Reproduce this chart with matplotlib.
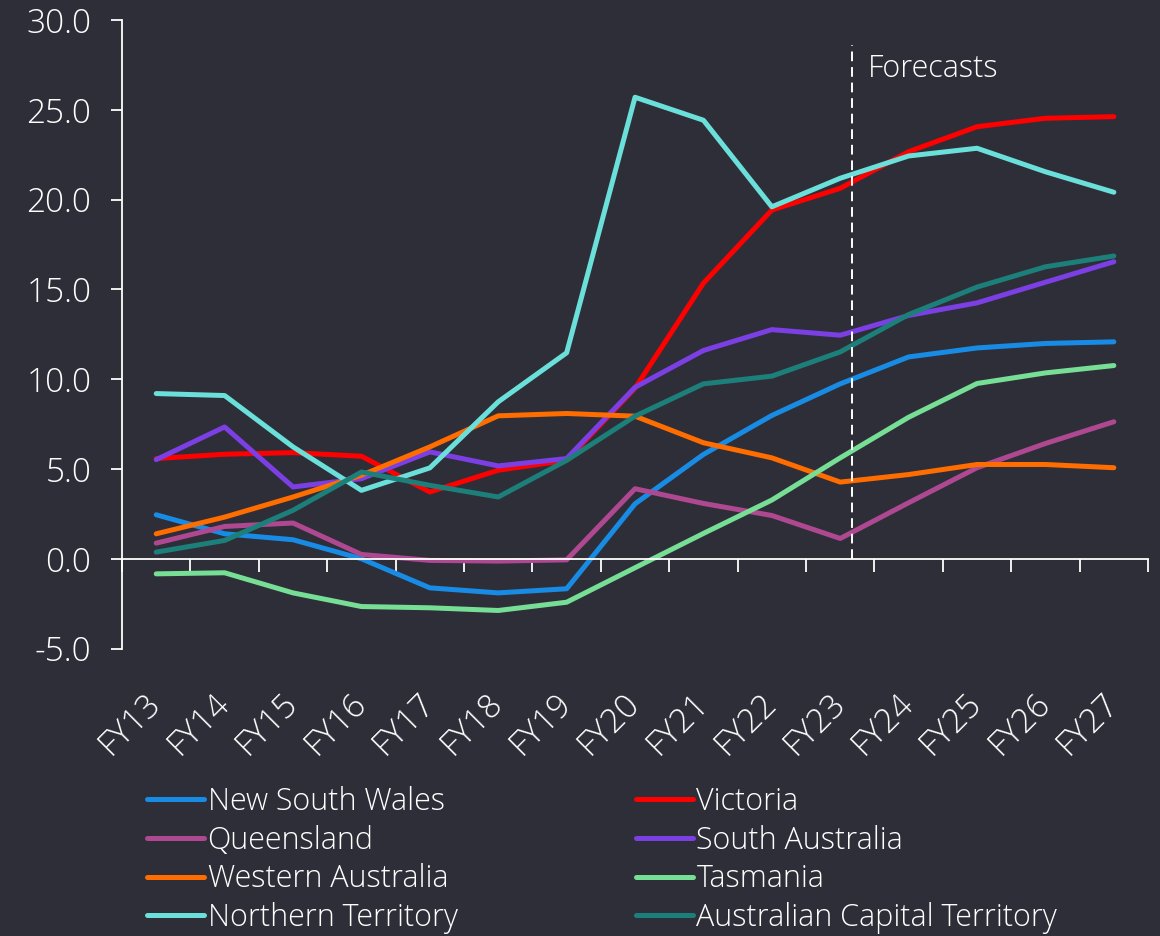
import numpy as np
import matplotlib
matplotlib.use("Agg")
import matplotlib.pyplot as plt

# -----------------------------
# Data
# -----------------------------
years = ["FY13", "FY14", "FY15", "FY16", "FY17", "FY18", "FY19", "FY20",
         "FY21", "FY22", "FY23", "FY24", "FY25", "FY26", "FY27"]

nsw = [2.45, 1.39, 1.06, 0.0, -1.62, -1.90, -1.67, 3.06, 5.81, 7.98, 9.74, 11.24, 11.74, 11.99, 12.08]
vic = [5.58, 5.82, 5.91, 5.71, 3.72, 4.93, 5.48, 9.5, 15.35, 19.42, 20.63, 22.67, 24.06, 24.53, 24.62]
qld = [0.87, 1.80, 1.99, 0.24, -0.09, -0.13, -0.06, 3.90, 3.08, 2.41, 1.13, 3.12, 5.07, 6.42, 7.63]
sa = [5.52, 7.34, 4.00, 4.46, 5.95, 5.17, 5.58, 9.55, 11.60, 12.76, 12.45, 13.55, 14.25, 15.40, 16.54]
wa = [1.39, 2.32, 3.44, 4.65, 6.23, 7.96, 8.09, 7.94, 6.46, 5.62, 4.27, 4.69, 5.25, 5.25, 5.07]
tas = [-0.84, -0.78, -1.90, -2.66, -2.73, -2.88, -2.42, -0.50, 1.41, 3.27, 5.62, 7.88, 9.76, 10.35, 10.76]
nt = [9.20, 9.09, 6.23, 3.81, 5.06, 8.74, 11.47, 25.70, 24.42, 19.60, 21.19, 22.43, 22.86, 21.55, 20.41]
act = [0.37, 1.02, 2.70, 4.83, 4.09, 3.44, 5.48, 7.94, 9.74, 10.17, 11.52, 13.60, 15.13, 16.26, 16.86]

series = [
    ("New South Wales", nsw, "#188CE5"),
    ("Victoria", vic, "#FF0000"),
    ("Queensland", qld, "#AE4891"),
    ("South Australia", sa, "#7B3FE4"),
    ("Western Australia", wa, "#FF6D00"),
    ("Tasmania", tas, "#77DE95"),
    ("Northern Territory", nt, "#6BDFD9"),
    ("Australian Capital Territory", act, "#1C7F7A"),
]

forecast_x = 10.17
forecast_top = 28.6

BG = "#2E2E38"
FG = "#FFFFFF"

plt.rcParams["font.family"] = ["Open Sans", "DejaVu Sans"]
plt.rcParams["font.weight"] = "light"

fig = plt.figure(figsize=(11.6, 9.36), dpi=100, facecolor=BG)
ax = fig.add_axes([0.1052, 0.3071, 0.8845, 0.6715], facecolor=BG)

x = np.arange(len(years))
handles = {}
for name, vals, col in series:
    (ln,) = ax.plot(x, vals, color=col, lw=3.6, solid_capstyle="round", solid_joinstyle="round", label=name)
    handles[name] = ln

# forecast divider
ax.vlines(forecast_x, 0, forecast_top, colors=FG, linestyles=(0, (5, 3)), lw=1.4)
ax.text(forecast_x + 0.23, 27.3, "Forecasts", color=FG, fontsize=22, va="center", ha="left")

# axes styling
ax.set_xlim(-0.5, len(years) - 0.5)
ax.set_ylim(-5, 30)
ax.set_yticks(np.arange(-5, 31, 5))
ax.set_yticklabels([f"{v:.1f}" for v in np.arange(-5, 31, 5)])
for s in ["top", "right"]:
    ax.spines[s].set_visible(False)
ax.spines["left"].set_color(FG)
ax.spines["left"].set_linewidth(1.3)
ax.spines["bottom"].set_position(("data", 0))
ax.spines["bottom"].set_color(FG)
ax.spines["bottom"].set_linewidth(1.3)
ax.tick_params(axis="y", colors=FG, labelsize=24, length=8, width=1.3, pad=14)

# category boundary ticks on the zero line
ax.set_xticks([])
ax.set_xticks(np.arange(-0.5, len(years), 1), minor=True)
ax.tick_params(axis="x", which="minor", colors=FG, length=9, width=1.3, direction="out")

# category labels at the bottom of the plot area
sec = ax.secondary_xaxis("bottom")
sec.set_xticks(x)
sec.set_xticklabels(years)
sec.spines["bottom"].set_visible(False)
sec.tick_params(axis="x", length=0, colors=FG, labelsize=24, pad=36)
for lab in sec.get_xticklabels():
    lab.set_rotation(45)
    lab.set_ha("right")
    lab.set_va("center")
    lab.set_rotation_mode("anchor")

order = ["New South Wales", "Queensland", "Western Australia", "Northern Territory",
         "Victoria", "South Australia", "Tasmania", "Australian Capital Territory"]
leg = fig.legend([handles[n] for n in order], order, ncol=2, loc="upper left",
                 bbox_to_anchor=(0.127, 1 - 786 / 936), frameon=False, fontsize=22,
                 handlelength=1.85, handletextpad=0.12, labelspacing=0.22,
                 columnspacing=5.85, borderpad=0, borderaxespad=0)
for t in leg.get_texts():
    t.set_color(FG)

fig.savefig("out.png", dpi=100, facecolor=BG)
